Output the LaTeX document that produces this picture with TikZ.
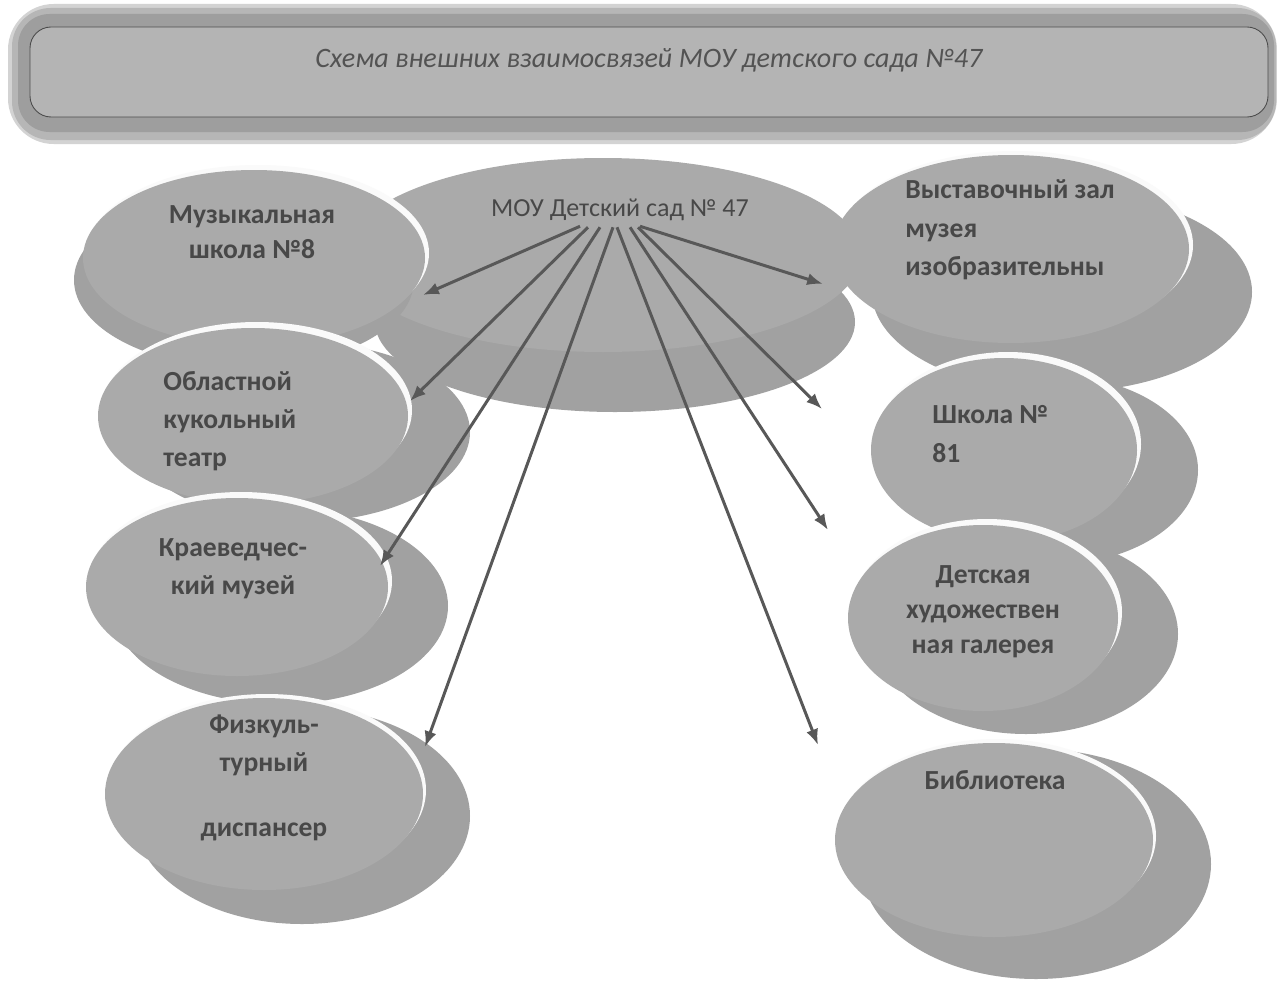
\documentclass[tikz,border=0pt]{standalone}
\usepackage{fontspec}
\setmainfont{Carlito}
\usepackage{xcolor}
\usepackage{tikz}
\usetikzlibrary{arrows.meta,positioning}

\definecolor{ovalgray}{RGB}{170,170,170}
\definecolor{shadegray}{RGB}{161,161,161}
\definecolor{rimwhite}{RGB}{250,250,250}
\definecolor{textgray}{RGB}{72,72,72}
\definecolor{arrowgray}{RGB}{88,88,88}
\definecolor{bannergray}{RGB}{180,180,180}
\definecolor{bannerglow}{RGB}{158,158,158}

\begin{document}
\begin{tikzpicture}[x=0.02cm,y=-0.02cm,
	oval/.style={fill=ovalgray},
	ovalshade/.style={fill=shadegray},
	ovalrim/.style={fill=rimwhite},
	label/.style={font=\fontsize{15.7}{21.8}\selectfont\bfseries,text=textgray,inner sep=0pt},
	link/.style={-{Latex[length=9pt,width=7pt]},line width=1.7pt,draw=arrowgray}]
	\useasboundingbox (0,0) rectangle (1277,997);
	\fill[white] (0,0) rectangle (1277,997);
	% title banner
	\fill[bannerglow!45,rounded corners=26] (8,4) rectangle (1277,144);
	\fill[bannerglow!75,rounded corners=22] (12,8) rectangle (1276,140);
	\fill[bannerglow,rounded corners=18] (18,14) rectangle (1274,132);
	\draw[fill=bannergray,draw=gray!60!black,line width=0.5pt,rounded corners=12] (30,27) rectangle (1268,117);
	\node (title) at (649,60) {\fontsize{16}{19}\selectfont\itshape\color{gray!65!black}Схема внешних взаимосвязей МОУ детского сада №47};
	% central oval
	\fill[ovalshade] (615,322) ellipse [x radius=240, y radius=90];
	\fill[oval] (603,255) ellipse [x radius=258, y radius=97];
	% left column
	\fill[ovalshade] (244,280) ellipse [x radius=170, y radius=88];
	\fill[ovalrim] (258,253) ellipse [x radius=171, y radius=88];
	\fill[oval] (254,258) ellipse [x radius=171, y radius=88];
	\fill[ovalshade] (300,432) ellipse [x radius=170, y radius=90];
	\fill[ovalrim] (257,410) ellipse [x radius=155, y radius=88];
	\fill[oval] (253,416) ellipse [x radius=155, y radius=88];
	\fill[ovalshade] (280,606) ellipse [x radius=168, y radius=98];
	\fill[ovalrim] (241,581) ellipse [x radius=151, y radius=89];
	\fill[oval] (237,587) ellipse [x radius=151, y radius=89];
	\fill[ovalshade] (302,816) ellipse [x radius=168, y radius=108];
	\fill[ovalrim] (267,790) ellipse [x radius=159, y radius=96];
	\fill[oval] (264,794) ellipse [x radius=159, y radius=96];
	% right column
	\fill[ovalshade] (1062,292) ellipse [x radius=190, y radius=100];
	\fill[ovalrim] (1015,245) ellipse [x radius=178, y radius=94];
	\fill[oval] (1011,249) ellipse [x radius=178, y radius=94];
	\fill[ovalshade] (1050,470) ellipse [x radius=148, y radius=95];
	\fill[ovalrim] (1008,444) ellipse [x radius=133, y radius=92];
	\fill[oval] (1004,450) ellipse [x radius=133, y radius=92];
	\fill[ovalshade] (1026,634) ellipse [x radius=152, y radius=100];
	\fill[ovalrim] (987,612) ellipse [x radius=135, y radius=93];
	\fill[oval] (983,618) ellipse [x radius=135, y radius=93];
	\fill[ovalshade] (1036,864) ellipse [x radius=175, y radius=115];
	\fill[ovalrim] (997,836) ellipse [x radius=159, y radius=97];
	\fill[oval] (994,840) ellipse [x radius=159, y radius=97];
	% labels
	\node[label,font=\fontsize{14.8}{21.8}\selectfont] (sad) at (620,210) {МОУ Детский сад № 47};
	\node[label,align=center,font=\fontsize{15.7}{20}\selectfont\bfseries] (muzshkola) at (252,232) {Музыкальная\\школа №8};
	\node[label,align=left,anchor=west] (vystzal) at (905,230) {Выставочный зал\\музея\\изобразительны};
	\node[label,align=left,anchor=west] (teatr) at (163,421) {Областной\\кукольный\\театр};
	\node[label,align=left,anchor=west] (shkola) at (932,434) {Школа №\\81};
	\node[label,align=center] (muzei) at (233,569) {Краеведчес-\\кий музей};
	\node[label,align=center,font=\fontsize{15.7}{20}\selectfont\bfseries] (galereya) at (983,612) {Детская\\художествен\\ная галерея};
	\node[label,align=center] (dispanser) at (264,778) {Физкуль-\\турный\\[15pt]диспансер};
	\node[label] (biblioteka) at (995,780) {Библиотека};
	% arrow ends
	\coordinate (toMuz) at (423,295);
	\coordinate (toTeatr) at (410,401);
	\coordinate (toMuzei) at (380,566);
	\coordinate (toDisp) at (425,747);
	\coordinate (toBibl) at (818,745);
	\coordinate (toGal) at (828,530);
	\coordinate (toShk) at (822,409);
	\coordinate (toVyst) at (823,284);
	\draw[link] ([shift={(-40,5)}]sad.south) -- (toMuz);
	\draw[link] ([shift={(-32,6)}]sad.south) -- (toTeatr);
	\draw[link] ([shift={(-20,6)}]sad.south) -- (toMuzei);
	\draw[link] ([shift={(-7,6)}]sad.south) -- (toDisp);
	\draw[link] ([shift={(-3,6)}]sad.south) -- (toBibl);
	\draw[link] ([shift={(10,6)}]sad.south) -- (toGal);
	\draw[link] ([shift={(18,6)}]sad.south) -- (toShk);
	\draw[link] ([shift={(20,5)}]sad.south) -- (toVyst);
\end{tikzpicture}
\end{document}
